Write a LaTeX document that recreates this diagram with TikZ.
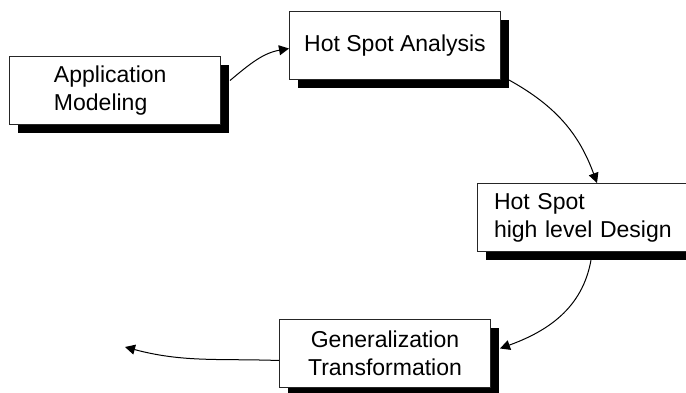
\documentclass[tikz,border=0pt]{standalone}
\usepackage{fontspec}
\setmainfont{Liberation Sans}
\usetikzlibrary{shadows}
\usetikzlibrary{arrows.meta}

\begin{document}
\begin{tikzpicture}[x=0.5pt,y=0.5pt,
	stage/.style={draw=black!85,line width=0.5pt,fill=white,anchor=north west,
		minimum width=105.5pt,minimum height=34pt,inner sep=0pt,
		font=\fontsize{11.5}{14}\selectfont,
		drop shadow={shadow xshift=4.25pt,shadow yshift=-4.25pt,fill=black,opacity=1}},
	flow/.style={-{Triangle[length=5pt,width=5pt]},line width=0.5pt}]

				    \useasboundingbox (0,0) rectangle (686,-392);

				    % Place nodes
				    \node [stage,align=left,text width=61pt] (model) at (9,-56) {Application\\Modeling};
				    \node [stage,align=center] (analysis) at (289,-11) {Hot Spot Analysis};
				    \node [stage,align=left,text width=89pt] (design) at (477,-183) {Hot Spot\\high level Design};
				    \node [stage,align=center] (general) at (279,-319) {Generalization\\Transformation};
				    \coordinate (next) at (125,-347);

				    % Connect them
				    \draw [flow] ([shift={(4.5pt,5pt)}]model.east) to [out=40,in=190] ([yshift=-1.5pt]analysis.west);
				    \draw [flow] ([xshift=4pt]analysis.south east) to [out=-29,in=110] ([xshift=7pt]design.north);
				    \draw [flow] ([shift={(4pt,-4pt)}]design.south) to [out=-100,in=20] ([shift={(4.5pt,2.5pt)}]general.east);
				    \draw [flow] ([yshift=-3.5pt]general.west) to [out=178,in=-15] (next);

				\end{tikzpicture}
\end{document}
